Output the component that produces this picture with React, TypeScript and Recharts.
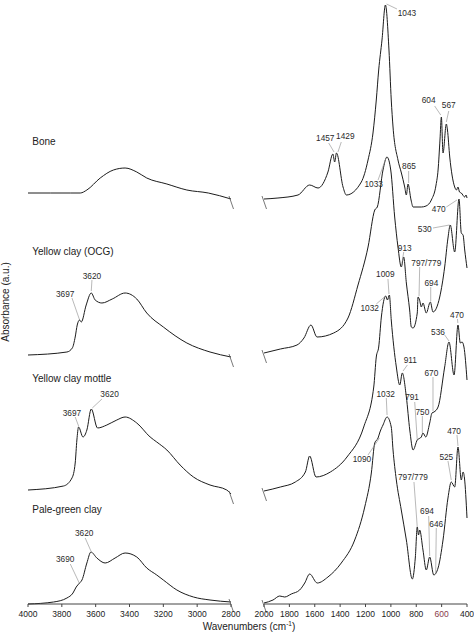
import React from "react";
import { Label, Line, LineChart, ReferenceDot, ReferenceLine, XAxis, YAxis } from "recharts";

// wavenumbers (cm-1) and absorbance (arbitrary, stacked) for each spectrum
const boneLeftWn = [4000, 3868, 3750, 3691, 3652, 3573, 3495, 3426, 3357, 3298, 3179, 3061, 2934, 2800];
const boneLeftAbs = [411, 411, 411, 411, 414, 426, 434, 436, 432, 426, 420, 414, 411, 405];
const boneRightWn = [2000, 1890, 1732, 1640, 1574, 1496, 1457, 1443, 1429, 1377, 1351, 1233, 1180, 1141, 1115, 1096, 1070, 1043, 1015, 997, 983, 944, 917, 891, 878, 865, 841, 825, 760, 723, 681, 644, 628, 613, 602, 589, 563, 554, 536, 518, 497, 483, 471, 459, 445, 418, 408, 400];
const boneRightAbs = [405, 406, 409, 419, 416, 432, 450, 442, 451, 417, 409, 422, 444, 471, 504, 534, 564, 599, 554, 504, 477, 444, 431, 417, 409, 420, 404, 397, 397, 398, 404, 419, 434, 464, 487, 451, 480, 474, 447, 429, 417, 414, 417, 412, 411, 407, 409, 406];

const ocgLeftWn = [4000, 3770, 3738, 3721, 3709, 3695, 3685, 3656, 3626, 3603, 3563, 3502, 3426, 3357, 3298, 3200, 3061, 2924, 2800];
const ocgLeftAbs = [249, 252, 256, 267, 279, 284, 282, 299, 311, 304, 301, 305, 311, 305, 291, 277, 261, 252, 247];
const ocgRightWn = [2000, 1871, 1740, 1685, 1630, 1582, 1451, 1338, 1259, 1180, 1127, 1107, 1062, 1031, 1001, 970, 944, 918, 899, 878, 852, 839, 825, 792, 786, 774, 760, 747, 721, 689, 668, 615, 576, 550, 532, 497, 463, 445, 431, 418, 400];
const ocgRightAbs = [251, 255, 259, 266, 279, 267, 271, 286, 319, 357, 394, 397, 434, 447, 434, 387, 357, 337, 347, 321, 294, 277, 276, 291, 307, 304, 297, 301, 291, 302, 292, 307, 337, 366, 379, 352, 405, 371, 369, 354, 336];

const mottleLeftWn = [4000, 3790, 3740, 3721, 3711, 3701, 3675, 3652, 3626, 3589, 3534, 3475, 3426, 3357, 3278, 3239, 3179, 3101, 3022, 2924, 2825, 2800];
const mottleLeftAbs = [114, 118, 126, 141, 164, 177, 167, 174, 195, 176, 179, 184, 187, 181, 167, 162, 154, 139, 127, 119, 114, 110];
const mottleRightWn = [2000, 1871, 1753, 1674, 1640, 1590, 1477, 1346, 1214, 1135, 1115, 1096, 1075, 1041, 1027, 1012, 997, 957, 930, 910, 878, 851, 825, 792, 760, 747, 725, 694, 676, 660, 628, 576, 542, 502, 471, 453, 439, 424, 400];
const mottleRightAbs = [113, 117, 122, 132, 148, 127, 132, 147, 177, 217, 247, 257, 287, 308, 304, 309, 284, 237, 219, 231, 207, 174, 154, 164, 167, 171, 167, 181, 191, 192, 197, 237, 262, 229, 279, 261, 262, 257, 224];

const paleLeftWn = [4000, 3849, 3770, 3734, 3715, 3695, 3681, 3652, 3628, 3593, 3544, 3485, 3426, 3357, 3298, 3239, 3200, 3120, 3022, 2924, 2800];
const paleLeftAbs = [0, 2, 6, 11, 17, 21, 24, 41, 52, 46, 41, 46, 51, 47, 36, 29, 24, 14, 7, 4, 2];
const paleRightWn = [2000, 1929, 1876, 1837, 1785, 1719, 1679, 1640, 1580, 1496, 1391, 1285, 1206, 1154, 1127, 1101, 1086, 1062, 1030, 997, 983, 957, 918, 878, 831, 807, 792, 782, 773, 747, 721, 694, 662, 628, 589, 550, 524, 497, 471, 445, 431, 420, 400];
const paleRightAbs = [1, 4, 8, 7, 10, 14, 21, 30, 21, 27, 41, 64, 97, 131, 161, 166, 172, 179, 187, 177, 154, 124, 94, 64, 25, 47, 77, 69, 74, 54, 34, 47, 29, 36, 64, 106, 122, 117, 157, 124, 132, 126, 86];

const leftTicks = [4000, 3800, 3600, 3400, 3200, 3000, 2800];
const rightTicks = [2000, 1800, 1600, 1400, 1200, 1000, 800, 600, 400];

const sampleNames = ["Bone", "Yellow clay (OCG)", "Yellow clay mottle", "Pale-green clay"];
const sampleNameAbs = [463, 353, 226, 95];

// peak labels: text, label point [wn, abs], leader from [wn, abs] to [wn, abs]
const leftPeaks: [string, number, number, number, number, number, number][] = [
  ["3697", 3780, 310, 3740, 306, 3695, 284],
  ["3620", 3622, 328, 3622, 324, 3626, 313],
  ["3697", 3740, 191, 3721, 187, 3701, 178],
  ["3620", 3518, 210, 3563, 205, 3620, 196],
  ["3690", 3780, 45, 3750, 40, 3697, 21],
  ["3620", 3668, 71, 3662, 66, 3628, 53],
];
const rightPeaks: [string, number, number, number, number, number, number][] = [
  ["1043", 873, 591, 952, 595, 1034, 600],
  ["1457", 1517, 466, 1490, 461, 1448, 452],
  ["1429", 1359, 468, 1391, 462, 1417, 452],
  ["604", 702, 504, 655, 498, 607, 489],
  ["567", 544, 499, 544, 493, 563, 482],
  ["865", 857, 438, 860, 433, 860, 421],
  ["1033", 1135, 420, 1101, 424, 1038, 446],
  ["470", 623, 395, 563, 397, 479, 404],
  ["530", 733, 375, 668, 376, 538, 379],
  ["913", 891, 356, 899, 352, 912, 341],
  ["797/779", 721, 341, 773, 337, 778, 308],
  ["694", 681, 321, 686, 317, 686, 303],
  ["1009", 1044, 330, 1023, 325, 1015, 310],
  ["1032", 1167, 296, 1115, 300, 1042, 308],
  ["470", 479, 289, 475, 285, 472, 281],
  ["536", 629, 272, 576, 269, 542, 263],
  ["911", 847, 244, 870, 239, 904, 233],
  ["670", 681, 231, 668, 227, 668, 193],
  ["791", 833, 207, 812, 202, 792, 164],
  ["750", 752, 192, 752, 188, 752, 171],
  ["1032", 1041, 210, 1036, 206, 1030, 189],
  ["1090", 1228, 145, 1180, 149, 1090, 166],
  ["470", 502, 173, 479, 169, 471, 158],
  ["525", 563, 147, 550, 143, 524, 124],
  ["797/779", 826, 127, 818, 122, 792, 77],
  ["694", 715, 93, 702, 88, 694, 48],
  ["646", 642, 80, 642, 76, 647, 31],
];

const toRows = (wn: number[], abs: number[]) => wn.map((w, i) => ({ wn: w, abs: abs[i] }));

const leftSeries = [
  toRows(boneLeftWn, boneLeftAbs),
  toRows(ocgLeftWn, ocgLeftAbs),
  toRows(mottleLeftWn, mottleLeftAbs),
  toRows(paleLeftWn, paleLeftAbs),
];
const rightSeries = [
  toRows(boneRightWn, boneRightAbs),
  toRows(ocgRightWn, ocgRightAbs),
  toRows(mottleRightWn, mottleRightAbs),
  toRows(paleRightWn, paleRightAbs),
];

const INK = "#1c1c1c";
const FONT = "'Liberation Sans', Arial, sans-serif";

// axis-break tick drawn on the cut end of each trace
const breakMark = (at: number) => (p: any) =>
  p.index === at ? (
    <line key={p.index} x1={p.cx - 2} y1={p.cy - 3} x2={p.cx + 2.5} y2={p.cy + 10} stroke="#555" strokeWidth={0.8} />
  ) : (
    <g key={p.index} />
  );

const AxisTick = ({ x, y, payload }: any) => (
  <text x={x} y={y} dy={7.5} textAnchor="middle" fontSize={8.5} fill={payload.value === 600 ? "#8a3a4a" : "#222"}>
    {payload.value}
  </text>
);

const PeakText = (text: string) => (p: any) => (
  <text x={p.cx} y={p.cy} textAnchor="middle" dominantBaseline="central" fontSize={8.3} fill="#2a2a2a">
    {text}
  </text>
);

const NameText = (text: string) => (p: any) => (
  <text x={p.cx} y={p.cy} textAnchor="start" dominantBaseline="central" fontSize={10} fill="#222">
    {text}
  </text>
);

// y title hangs off the left x-axis box: plot runs from the top of the svg down to the axis
const YTitle = ({ viewBox }: any) => {
  const x = viewBox.x - 23;
  const y = viewBox.y / 2;
  return (
    <text x={x} y={y} transform={`rotate(-90 ${x} ${y})`} textAnchor="middle" dominantBaseline="central" fontSize={10} fill="#222">
      Absorbance (a.u.)
    </text>
  );
};

const XTitle = ({ viewBox }: any) => (
  <text x={viewBox.x - 15} y={viewBox.y + 25.5} textAnchor="middle" fontSize={10} fill="#222">
    Wavenumbers (cm
    <tspan fontSize={6.5} dy={-4}>-1</tspan>
    <tspan dy={4}>)</tspan>
  </text>
);

const peakMarks = (peaks: typeof rightPeaks, prefix: string) =>
  peaks.flatMap(([text, lx, ly, x1, y1, x2, y2], i) => [
    <ReferenceLine
      key={`${prefix}l${i}`}
      segment={[
        { x: x1, y: y1 },
        { x: x2, y: y2 },
      ]}
      stroke="#8a8a8a"
      strokeWidth={0.6}
    />,
    <ReferenceDot key={`${prefix}t${i}`} x={lx} y={ly} r={0} shape={PeakText(text)} />,
  ]);

export default function App() {
  return (
    <div style={{ position: "absolute", left: 0, top: 0, width: 474, height: 640, background: "#fff", fontFamily: FONT }}>
      <div style={{ position: "absolute", left: 0, top: 0 }}>
        <LineChart width={474} height={640} margin={{ top: 0, right: 243, bottom: 6, left: 28 }}>
          <XAxis
            type="number"
            dataKey="wn"
            domain={[2800, 4000]}
            reversed
            ticks={leftTicks}
            interval={0}
            tickSize={3}
            tickMargin={2}
            height={30}
            axisLine={{ stroke: "#444" }}
            tickLine={{ stroke: "#444" }}
            tick={<AxisTick />}
          >
            <Label content={<YTitle />} />
          </XAxis>
          <YAxis type="number" domain={[0, 604]} width={0} tick={false} tickLine={false} axisLine={{ stroke: "#9a9a9a" }} />
          {leftSeries.map((rows, i) => (
            <Line
              key={`L${i}`}
              data={rows}
              dataKey="abs"
              type="monotone"
              stroke={INK}
              strokeWidth={1}
              dot={breakMark(rows.length - 1)}
              activeDot={false}
              isAnimationActive={false}
            />
          ))}
          {sampleNames.map((name, i) => (
            <ReferenceDot key={`n${i}`} x={3975} y={sampleNameAbs[i]} r={0} shape={NameText(name)} />
          ))}
          {peakMarks(leftPeaks, "L")}
        </LineChart>
      </div>
      <div style={{ position: "absolute", left: 0, top: 0 }}>
        <LineChart width={474} height={640} margin={{ top: 0, right: 7, bottom: 6, left: 264 }}>
          <XAxis
            type="number"
            dataKey="wn"
            domain={[400, 2000]}
            reversed
            ticks={rightTicks}
            interval={0}
            tickSize={3}
            tickMargin={2}
            height={30}
            axisLine={{ stroke: "#444" }}
            tickLine={{ stroke: "#444" }}
            tick={<AxisTick />}
          >
            <Label content={<XTitle />} />
          </XAxis>
          <YAxis type="number" domain={[0, 604]} hide />
          {rightSeries.map((rows, i) => (
            <Line
              key={`R${i}`}
              data={rows}
              dataKey="abs"
              type="monotone"
              stroke={INK}
              strokeWidth={1}
              dot={breakMark(0)}
              activeDot={false}
              isAnimationActive={false}
            />
          ))}
          {peakMarks(rightPeaks, "R")}
        </LineChart>
      </div>
    </div>
  );
}
